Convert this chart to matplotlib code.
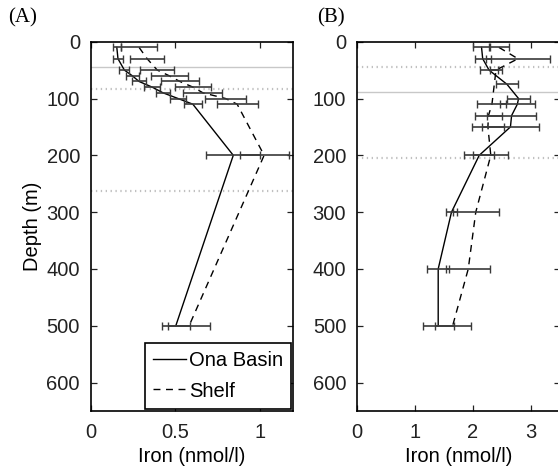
import numpy as np
import matplotlib
matplotlib.use("Agg")
import matplotlib.pyplot as plt

plt.rcParams['font.family'] = ['Liberation Sans', 'DejaVu Sans']

# panel A - iron profiles
depth_a = [10, 30, 50, 60, 70, 80, 90, 100, 110, 200, 500]
ona_a = [0.153, 0.160, 0.198, 0.245, 0.285, 0.363, 0.427, 0.516, 0.604, 0.844, 0.503]
ona_a_err = [0.024, 0.028, 0.030, 0.037, 0.040, 0.047, 0.042, 0.047, 0.055, 0.159, 0.083]
shelf_a = [0.285, 0.333, 0.393, 0.464, 0.527, 0.605, 0.664, 0.798, 0.867, 1.027, 0.582]
shelf_a_err = [0.109, 0.102, 0.102, 0.110, 0.113, 0.108, 0.116, 0.119, 0.121, 0.146, 0.123]
lines_a_solid = [45]
lines_a_dot = [84, 262]

# panel B
depth_b_ona = [10, 30, 50, 75, 100, 110, 130, 150, 200, 300, 400, 500]
ona_b = [2.15, 2.17, 2.28, 2.59, 2.79, 2.77, 2.67, 2.65, 2.11, 1.63, 1.40, 1.40]
ona_b_err = [0.15, 0.14, 0.16, 0.19, 0.20, 0.30, 0.43, 0.50, 0.26, 0.10, 0.19, 0.27]
depth_b_shelf = [10, 30, 50, 110, 130, 150, 200, 300, 400, 500]
shelf_b = [2.45, 2.78, 2.40, 2.33, 2.27, 2.26, 2.31, 2.05, 1.92, 1.65]
shelf_b_err = [0.17, 0.56, 0.10, 0.25, 0.24, 0.27, 0.30, 0.40, 0.38, 0.31]
lines_b_solid = [89]
lines_b_dot = [45, 204]

fs = 14.5
errcol = '#3a3a3a'

fig = plt.figure(figsize=(5.58, 4.71), dpi=100)
axA = fig.add_axes([0.1631, 0.1274, 0.3625, 0.7841])
axB = fig.add_axes([0.6403, 0.1274, 0.3625, 0.7841])


def style(ax, xmax, xticks, xticklabels):
    ax.set_xlim(0, xmax)
    ax.set_ylim(650, 0)
    ax.set_xticks(xticks)
    ax.set_xticklabels(xticklabels)
    ax.set_yticks(range(0, 700, 100))
    ax.tick_params(direction='in', length=4, width=0.9, top=True, right=True,
                   labelsize=fs, colors='#222222')
    ax.tick_params(axis='y', pad=8)
    ax.tick_params(axis='x', pad=9)
    for s in ax.spines.values():
        s.set_linewidth(1.2)
    ax.set_xlabel('Iron (nmol/l)', fontsize=fs, labelpad=3)


def profile(ax, d1, v1, e1, d2, v2, e2, solid, dot):
    for d in solid:
        ax.axhline(d, color='#c8c8c8', lw=1.0, zorder=1)
    for d in dot:
        ax.axhline(d, color='#c0c0c0', lw=1.6, ls=(0, (0.6, 1.6)), zorder=1)
    l1, = ax.plot(v1, d1, color='black', lw=1.0, label='Ona Basin', zorder=3)
    l2, = ax.plot(v2, d2, color='black', lw=1.0, ls=(0, (5, 4)), label='Shelf', zorder=3)
    ax.errorbar(v1, d1, xerr=e1, fmt='none', ecolor=errcol, elinewidth=1.2,
                capsize=3, capthick=1.0, zorder=4)
    ax.errorbar(v2, d2, xerr=e2, fmt='none', ecolor=errcol, elinewidth=1.2,
                capsize=3, capthick=1.0, zorder=4)
    return l1, l2


l1, l2 = profile(axA, depth_a, ona_a, ona_a_err, depth_a, shelf_a, shelf_a_err,
                 lines_a_solid, lines_a_dot)
profile(axB, depth_b_ona, ona_b, ona_b_err, depth_b_shelf, shelf_b, shelf_b_err,
        lines_b_solid, lines_b_dot)

style(axA, 1.2, [0, 0.5, 1], ['0', '0.5', '1'])
style(axB, 3.5, [0, 1, 2, 3], ['0', '1', '2', '3'])
axA.set_ylabel('Depth (m)', fontsize=fs, labelpad=3)

leg = axA.legend(handles=[l1, l2], loc='lower right', bbox_to_anchor=(1.0, 0.0),
                 borderaxespad=0.12, fontsize=fs, fancybox=False, framealpha=1,
                 edgecolor='black', handlelength=1.6, handletextpad=0.15,
                 labelspacing=0.55, borderpad=0.4)
leg.get_frame().set_linewidth(1.2)

fig.text(23 / 558, 1 - 18 / 471, '(A)', fontsize=15, family='Liberation Serif',
         ha='center', va='center')
fig.text(331 / 558, 1 - 18 / 471, '(B)', fontsize=15, family='Liberation Serif',
         ha='center', va='center')

fig.savefig('out.png', dpi=100)
